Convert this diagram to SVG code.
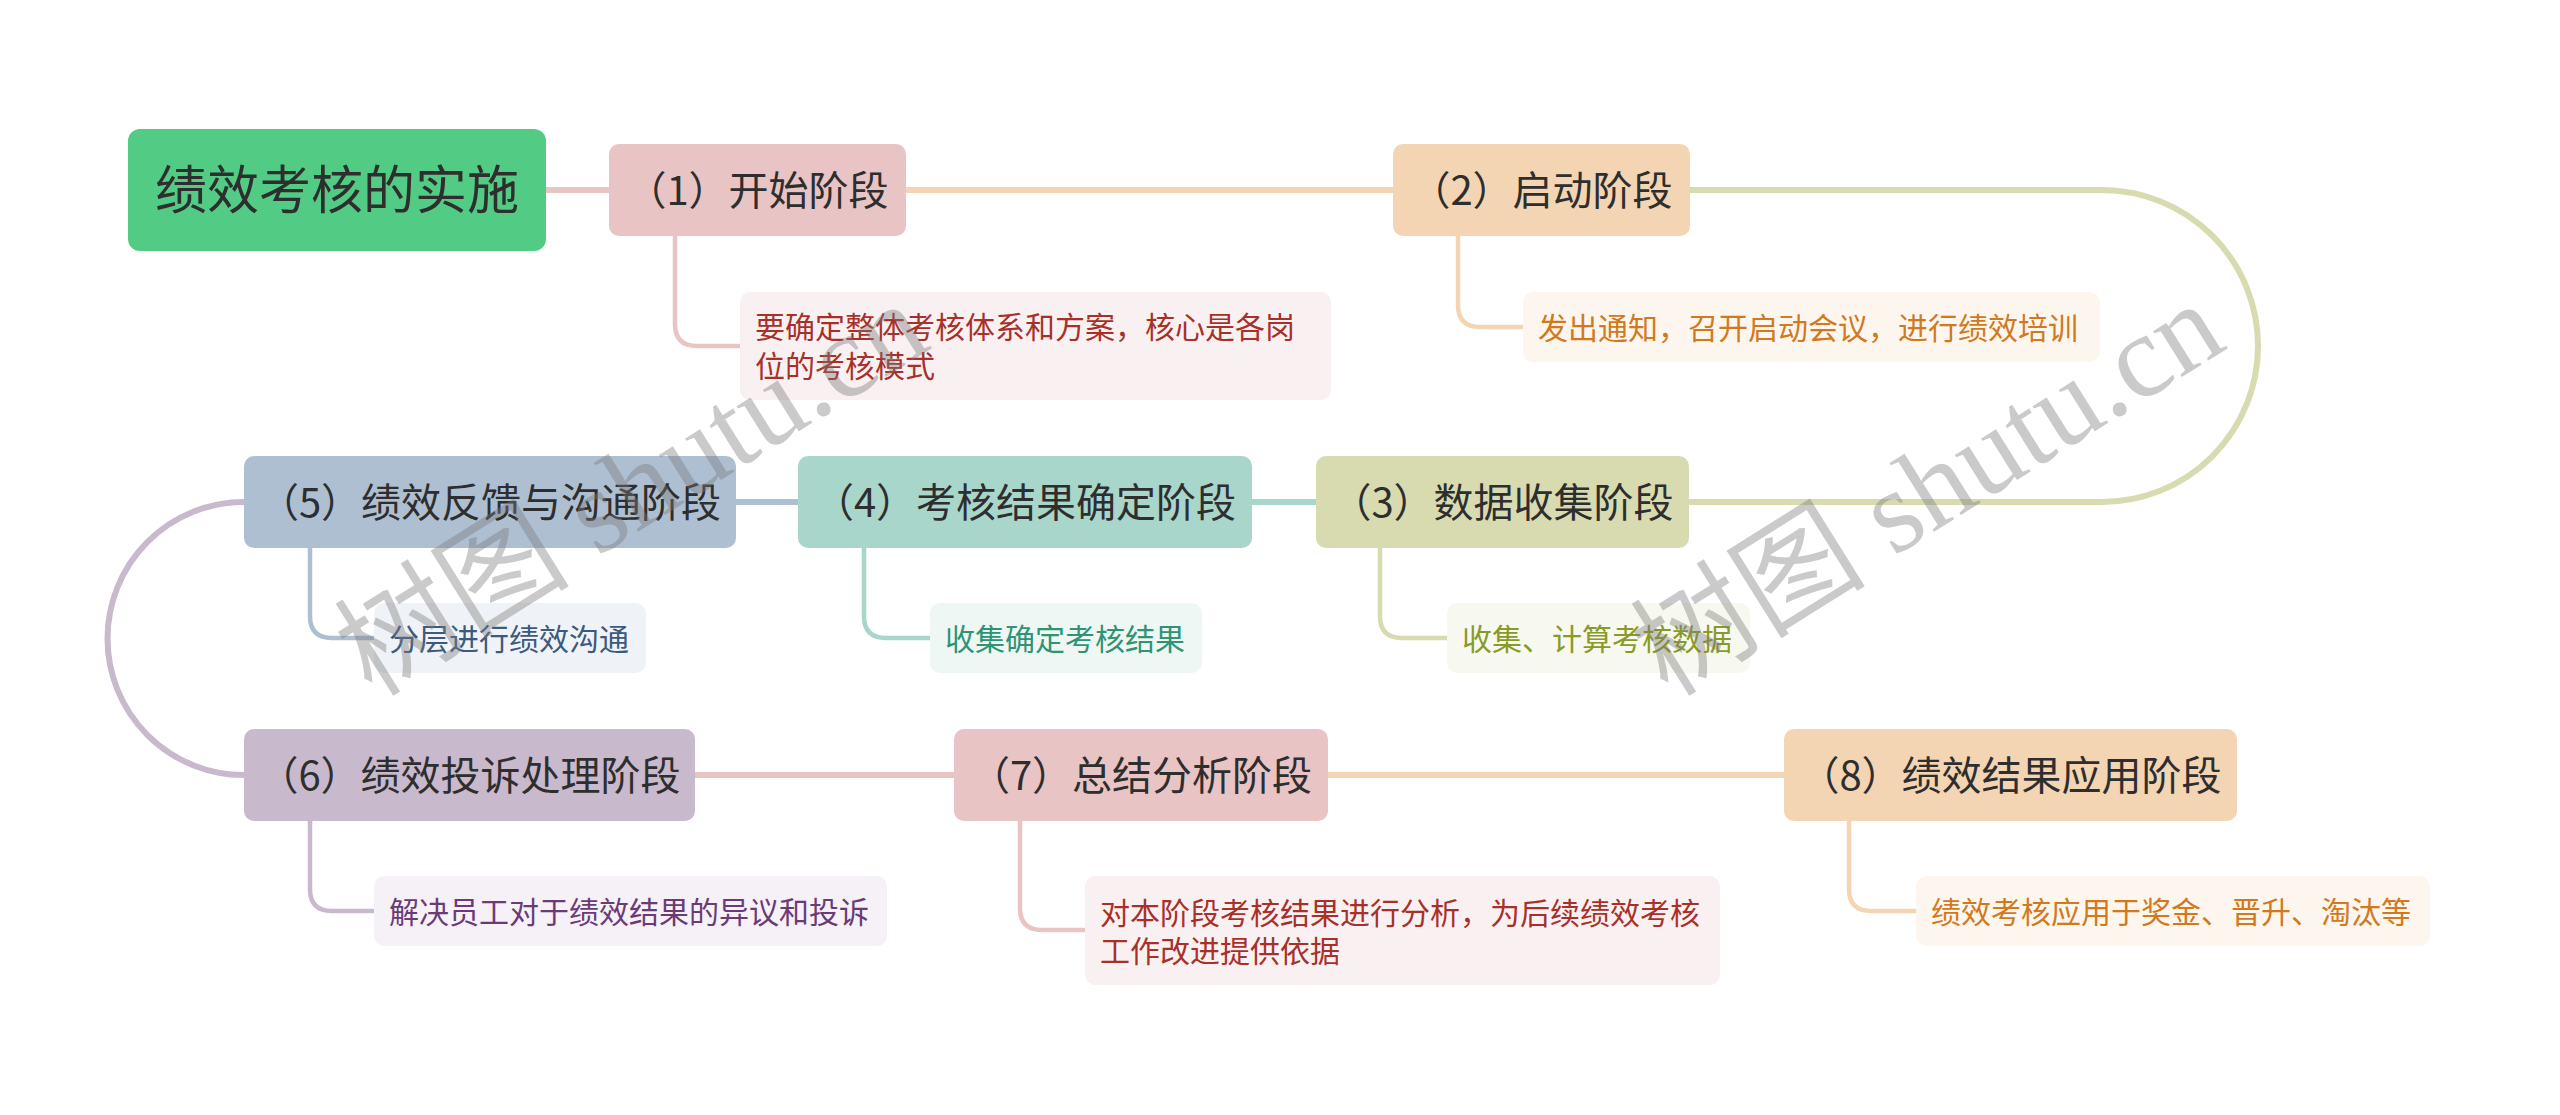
<svg xmlns="http://www.w3.org/2000/svg" width="2560" height="1115" viewBox="0 0 2560 1115">
<style>
text{font-family:'Noto Sans CJK SC','Noto Sans',sans-serif}
.main{font-size:40px;fill:#2e2e2e;text-anchor:middle}
.desc{font-size:30px}
.c{fill:none;stroke-width:6}
.cc{fill:none;stroke-width:4.5}
.wm{font-family:'Liberation Serif','Noto Sans CJK SC',serif;font-size:118px;fill:#7a7a7a;fill-opacity:0.4}
</style>
<rect width="2560" height="1115" fill="#ffffff"/>
<g id="connectors">
<path class="c" stroke="#e8c4c4" d="M546,190 H609"/>
<path class="c" stroke="#f3d5b3" d="M906,190 H1393"/>
<path class="c" stroke="#d8dbb0" d="M1690,190 H2102 A156,156 0 0 1 2102,502 H1689"/>
<path class="c" stroke="#a8d6ca" d="M1252,502 H1316"/>
<path class="c" stroke="#aebfd2" d="M736,502 H798"/>
<path class="c" stroke="#c9b9cc" d="M244,502 A136.5,136.5 0 0 0 244,775"/>
<path class="c" stroke="#e8c4c4" d="M695,775 H954"/>
<path class="c" stroke="#f3d5b3" d="M1328,775 H1784"/>
<path class="cc" stroke="#e8c4c4" d="M675,236 V324 Q675,346 697,346 H740"/>
<path class="cc" stroke="#f3d5b3" d="M1458,236 V305 Q1458,327 1480,327 H1523"/>
<path class="cc" stroke="#d8dbb0" d="M1380,548 V616 Q1380,638 1402,638 H1447"/>
<path class="cc" stroke="#a8d6ca" d="M864,548 V616 Q864,638 886,638 H930"/>
<path class="cc" stroke="#aebfd2" d="M310,548 V616 Q310,638 332,638 H374"/>
<path class="cc" stroke="#c9b9cc" d="M310,821 V889 Q310,911 332,911 H374"/>
<path class="cc" stroke="#e8c4c4" d="M1020,821 V908 Q1020,930 1042,930 H1085"/>
<path class="cc" stroke="#f3d5b3" d="M1849,821 V889 Q1849,911 1871,911 H1916"/>
</g>
<g id="root">
<rect x="128" y="129" width="418" height="122" rx="12" fill="#52cc84"/>
<text x="337" y="209" style="font-size:52px;fill:#2e2e2e;text-anchor:middle">绩效考核的实施</text>
</g>
<g id="n1">
<rect x="609" y="144" width="297" height="92" rx="10" fill="#e8c4c4"/>
<text class="main" x="757.5" y="205">（1）开始阶段</text>
</g>
<g id="n1d">
<rect x="740" y="292" width="591" height="108" rx="10" fill="#f9f1f1"/>
<text class="desc" fill="#a8302a" x="755" y="338">要确定整体考核体系和方案，核心是各岗</text>
<text class="desc" fill="#a8302a" x="755" y="376.5">位的考核模式</text>
</g>
<g id="n2">
<rect x="1393" y="144" width="297" height="92" rx="10" fill="#f3d5b3"/>
<text class="main" x="1541.5" y="205">（2）启动阶段</text>
</g>
<g id="n2d">
<rect x="1523" y="292" width="577" height="70" rx="10" fill="#fdf6ee"/>
<text class="desc" fill="#d2791e" x="1538" y="338.5">发出通知，召开启动会议，进行绩效培训</text>
</g>
<g id="n3">
<rect x="1316" y="456" width="373" height="92" rx="10" fill="#d8dbb0"/>
<text class="main" x="1502.5" y="517">（3）数据收集阶段</text>
</g>
<g id="n3d">
<rect x="1447" y="603" width="303" height="70" rx="10" fill="#f7f8ef"/>
<text class="desc" fill="#8a9a26" x="1462" y="649.5">收集、计算考核数据</text>
</g>
<g id="n4">
<rect x="798" y="456" width="454" height="92" rx="10" fill="#a8d6ca"/>
<text class="main" x="1025" y="517">（4）考核结果确定阶段</text>
</g>
<g id="n4d">
<rect x="930" y="603" width="272" height="70" rx="10" fill="#eff7f5"/>
<text class="desc" fill="#2e9473" x="945" y="649.5">收集确定考核结果</text>
</g>
<g id="n5">
<rect x="244" y="456" width="492" height="92" rx="10" fill="#aebfd2"/>
<text class="main" x="490" y="517">（5）绩效反馈与沟通阶段</text>
</g>
<g id="n5d">
<rect x="374" y="603" width="272" height="70" rx="10" fill="#eff2f6"/>
<text class="desc" fill="#3b5a7e" x="389" y="649.5">分层进行绩效沟通</text>
</g>
<g id="n6">
<rect x="244" y="729" width="451" height="92" rx="10" fill="#c9b9cc"/>
<text class="main" x="469.5" y="790">（6）绩效投诉处理阶段</text>
</g>
<g id="n6d">
<rect x="374" y="876" width="513" height="70" rx="10" fill="#f5f1f6"/>
<text class="desc" fill="#6b3b78" x="389" y="922.5">解决员工对于绩效结果的异议和投诉</text>
</g>
<g id="n7">
<rect x="954" y="729" width="374" height="92" rx="10" fill="#e8c4c4"/>
<text class="main" x="1141" y="790">（7）总结分析阶段</text>
</g>
<g id="n7d">
<rect x="1085" y="876" width="635" height="109" rx="10" fill="#f9f1f1"/>
<text class="desc" fill="#a8302a" x="1100" y="923.5">对本阶段考核结果进行分析，为后续绩效考核</text>
<text class="desc" fill="#a8302a" x="1100" y="962">工作改进提供依据</text>
</g>
<g id="n8">
<rect x="1784" y="729" width="453" height="92" rx="10" fill="#f3d5b3"/>
<text class="main" x="2010.5" y="790">（8）绩效结果应用阶段</text>
</g>
<g id="n8d">
<rect x="1916" y="876" width="514" height="70" rx="10" fill="#fdf6ee"/>
<text class="desc" fill="#d2791e" x="1931" y="922.5">绩效考核应用于奖金、晋升、淘汰等</text>
</g>
<g id="watermark">
<text class="wm" x="372" y="698" transform="rotate(-32 372 698)">树图 shutu.cn</text>
<text class="wm" x="1668" y="698" transform="rotate(-32 1668 698)">树图 shutu.cn</text>
</g>
</svg>
